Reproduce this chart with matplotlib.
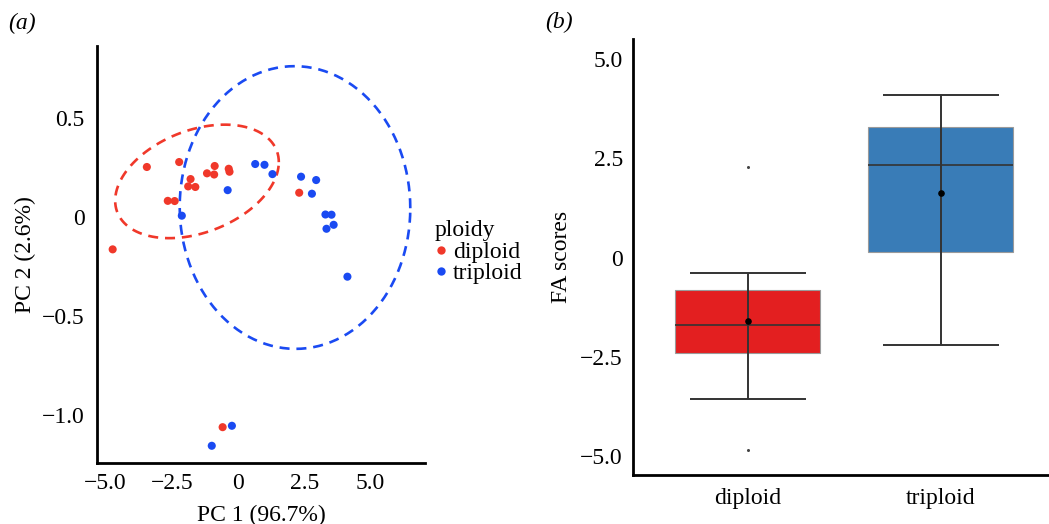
import numpy as np
import matplotlib
matplotlib.use("Agg")
import matplotlib.pyplot as plt
from matplotlib.lines import Line2D

plt.rcParams['font.family'] = ['Liberation Serif', 'DejaVu Serif']
plt.rcParams['axes.unicode_minus'] = True

# ---------------- data: panel (a) PCA scores ----------------
diploid_pc1 = [-3.44, -2.22, -1.79, -1.88, -1.61, -2.65, -2.39, -1.17, -0.88, -0.90,
               -0.35, -0.32, 2.31, -4.73, -0.58]
diploid_pc2 = [0.253, 0.278, 0.192, 0.155, 0.152, 0.082, 0.081, 0.221, 0.258, 0.215,
               0.244, 0.229, 0.123, -0.163, -1.061]
triploid_pc1 = [0.65, 1.00, 1.30, -0.39, -2.12, 2.38, 2.95, 2.79, 3.30, 3.53,
                3.61, 3.34, 4.13, -0.23, -0.99]
triploid_pc2 = [0.268, 0.264, 0.217, 0.136, 0.007, 0.204, 0.187, 0.118, 0.013, 0.012,
                -0.039, -0.059, -0.301, -1.054, -1.155]

pca_xticks = [-5.0, -2.5, 0.0, 2.5, 5.0]
pca_xticklabels = ['\u22125.0', '\u22122.5', '0', '2.5', '5.0']
pca_yticks = [0.5, 0.0, -0.5, -1.0]
pca_yticklabels = ['0.5', '0', '\u22120.5', '\u22121.0']

# ---------------- data: panel (b) FA score box plots ----------------
groups = ['diploid', 'triploid']
fa_q1 = [-2.40, 0.15]
fa_med = [-1.71, 2.34]
fa_q3 = [-0.82, 3.30]
fa_whislo = [-3.56, -2.21]
fa_whishi = [-0.40, 4.10]
fa_mean = [-1.59, 1.63]
fa_fliers = [[2.27, -4.86], []]
fa_yticks = [5.0, 2.5, 0.0, -2.5, -5.0]
fa_yticklabels = ['5.0', '2.5', '0', '\u22122.5', '\u22125.0']

red_pt = '#F0382A'
blue_pt = '#1A4AF2'
box_red = '#E31F20'
box_blue = '#397CB7'

FS = 17


def cov_trob(x, nu=5, maxit=25, tol=0.01):
    n, p = x.shape
    wt = np.ones(n)
    loc = x.mean(axis=0)
    w = np.sqrt(wt)
    for _ in range(maxit):
        w0 = w
        X = x - loc
        _, d, vt = np.linalg.svd(np.sqrt(w / w.sum())[:, None] * X, full_matrices=False)
        wX = X @ vt.T @ np.diag(1.0 / d)
        Q = (wX ** 2).sum(axis=1)
        w = (wt * (nu + p)) / (nu + Q)
        loc = (w[:, None] * x).sum(axis=0) / w.sum()
        if np.all(np.abs(w - w0) < tol):
            break
    X = x - loc
    cov = (np.sqrt(w)[:, None] * X).T @ (np.sqrt(w)[:, None] * X) / wt.sum()
    return loc, cov


def t_ellipse(xs, ys, level=0.95, segments=121):
    data = np.column_stack([xs, ys])
    n = data.shape[0]
    center, shape = cov_trob(data)
    dfn, dfd = 2, n - 1
    fq = (dfd / 2.0) * ((1 - level) ** (-2.0 / dfd) - 1)
    radius = np.sqrt(dfn * fq)
    R = np.linalg.cholesky(shape).T
    ang = np.linspace(0, 2 * np.pi, segments)
    circ = np.column_stack([np.cos(ang), np.sin(ang)])
    ell = center + radius * (circ @ R)
    return ell[:, 0], ell[:, 1]


fig = plt.figure(figsize=(10.49, 5.24), dpi=100)

# ---------------- panel (a) ----------------
axa = fig.add_axes([0.0925, 0.1164, 0.3127, 0.7958])
dash = (0, (3.8, 2.6))
ex, ey = t_ellipse(diploid_pc1, diploid_pc2)
axa.plot(ex, ey, color=red_pt, lw=1.9, ls=dash, zorder=2)
ex, ey = t_ellipse(triploid_pc1, triploid_pc2)
axa.plot(ex, ey, color=blue_pt, lw=1.9, ls=dash, zorder=2)
axa.scatter(diploid_pc1, diploid_pc2, s=34, color=red_pt, edgecolors='none', zorder=3)
axa.scatter(triploid_pc1, triploid_pc2, s=34, color=blue_pt, edgecolors='none', zorder=3)
axa.set_xlim(-5.32, 7.06)
axa.set_ylim(-1.242, 0.864)
axa.set_xticks(pca_xticks)
axa.set_xticklabels(pca_xticklabels)
axa.set_yticks(pca_yticks)
axa.set_yticklabels(pca_yticklabels)
axa.set_xlabel('PC 1 (96.7%)', fontsize=FS, labelpad=8)
axa.set_ylabel('PC 2 (2.6%)', fontsize=FS, labelpad=4)

handles = [Line2D([], [], ls='none', marker='o', ms=6, color=red_pt, mec='none'),
           Line2D([], [], ls='none', marker='o', ms=6, color=blue_pt, mec='none')]
leg = axa.legend(handles, groups, title='ploidy', loc='center left',
                 bbox_to_anchor=(0.98, 0.505), frameon=False, fontsize=FS,
                 title_fontsize=FS, handlelength=0.5, handletextpad=0.25,
                 labelspacing=0.0, borderaxespad=0.5, borderpad=0.2)
leg._legend_box.align = 'left'

# ---------------- panel (b) ----------------
axb = fig.add_axes([0.6031, 0.0935, 0.3969, 0.8315])
stats = []
for i, g in enumerate(groups):
    stats.append(dict(label=g, q1=fa_q1[i], med=fa_med[i], q3=fa_q3[i],
                      whislo=fa_whislo[i], whishi=fa_whishi[i],
                      mean=fa_mean[i], fliers=fa_fliers[i]))
positions = [1, 2]
bp = axb.bxp(stats, positions=positions, widths=0.75, patch_artist=True,
             showmeans=False, showcaps=False, shownotches=False,
             boxprops=dict(edgecolor='#9a9a9a', linewidth=0.8),
             medianprops=dict(color='#333333', linewidth=1.4, alpha=0.85),
             whiskerprops=dict(linewidth=0),
             flierprops=dict(marker='o', markersize=2.2, markerfacecolor='#444444',
                             markeredgecolor='none'))
for patch, c in zip(bp['boxes'], [box_red, box_blue]):
    patch.set_facecolor(c)
    patch.set_zorder(2)
for m in bp['medians']:
    m.set_zorder(3)
# error-bar style whiskers through the box
axb.vlines(positions, fa_whislo, fa_whishi, color='#333333', lw=1.4, zorder=4)
capw = 0.3
axb.hlines(fa_whislo, [p - capw for p in positions], [p + capw for p in positions],
           color='#333333', lw=1.4, zorder=4)
axb.hlines(fa_whishi, [p - capw for p in positions], [p + capw for p in positions],
           color='#333333', lw=1.4, zorder=4)
axb.scatter(positions, fa_mean, s=14, color='black', zorder=5)
axb.set_xlim(0.405, 2.56)
axb.set_ylim(-5.48, 5.50)
axb.set_yticks(fa_yticks)
axb.set_yticklabels(fa_yticklabels)
axb.set_xticks(positions)
axb.set_xticklabels(groups)
axb.set_ylabel('FA scores', fontsize=FS, labelpad=6)

for ax in (axa, axb):
    for s in ('top', 'right'):
        ax.spines[s].set_visible(False)
    for s in ('left', 'bottom'):
        ax.spines[s].set_linewidth(2.0)
        ax.spines[s].set_capstyle('projecting')
    ax.tick_params(axis='both', length=0, labelsize=FS, colors='black')
axa.tick_params(axis='y', pad=9)
axa.tick_params(axis='x', pad=7)
axb.tick_params(axis='y', pad=7)
axb.tick_params(axis='x', pad=9)

fig.text(0.008, 0.955, '(a)', fontsize=FS, style='italic', va='center', ha='left')
fig.text(0.520, 0.957, '(b)', fontsize=FS, style='italic', va='center', ha='left')

fig.savefig('out.png', dpi=100)
